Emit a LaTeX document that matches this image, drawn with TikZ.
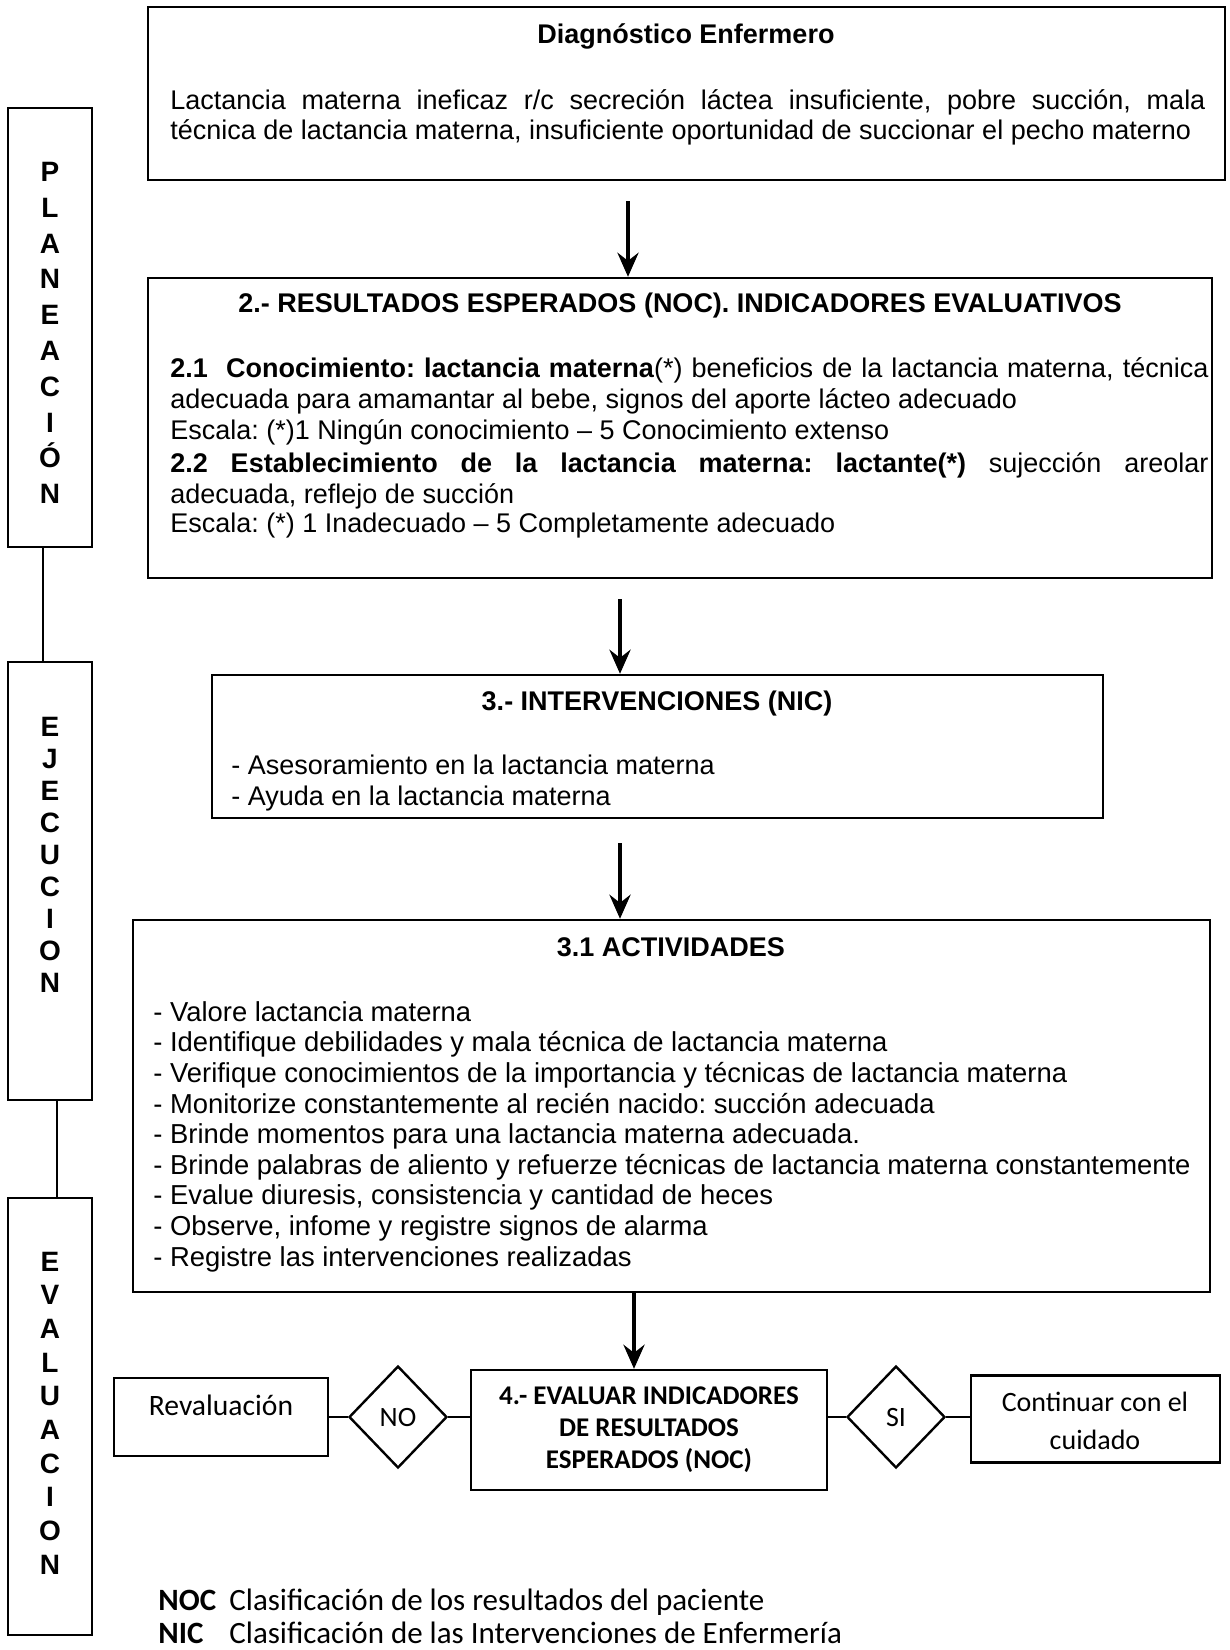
\documentclass[tikz,border=0pt]{standalone}
\usepackage{fontspec}
\setmainfont{Liberation Sans}
\newfontfamily\calib{Carlito}
\usetikzlibrary{shapes.geometric,arrows.meta}
\frenchspacing
\begin{document}
\begin{tikzpicture}[x=0.5pt,y=-0.5pt,
  box/.style={draw,line width=1.2pt,rectangle,inner sep=0pt},
  txt/.style={font=\fontsize{13.5}{15.5}\selectfont,inner sep=0pt,anchor=mid west},
  txtb/.style={font=\fontsize{13.7}{15.5}\selectfont,inner sep=0pt,anchor=mid west},
  ttl/.style={font=\bfseries\fontsize{13.5}{15.5}\selectfont,inner sep=0pt,anchor=mid},
  side/.style={font=\bfseries\fontsize{14}{#1}\selectfont,align=center,inner sep=0pt},
  arr/.style={line width=2pt,-{Stealth[length=12pt,width=10.5pt,inset=4pt]}},
  link/.style={line width=1.2pt},
  thin/.style={line width=0.9pt},
  cal/.style={font=\calib\fontsize{14}{16}\selectfont,inner sep=0pt},
  calbig/.style={font=\calib\fontsize{14.8}{16}\selectfont,inner sep=0pt},
  calb/.style={font=\calib\bfseries\fontsize{15.5}{17}\selectfont,inner sep=0pt,anchor=mid west},
  calr/.style={font=\calib\fontsize{15.5}{17}\selectfont,inner sep=0pt,anchor=mid west}]
\fill[white] (0,0) rectangle (1230,1650);
\useasboundingbox (0,0) rectangle (1230,1650);

% side boxes
\node[box,minimum width=42pt,minimum height=219.5pt] (plan) at (50,327.5) {};
\node[side=17.9pt] (plant) at (50,333) {P\\L\\A\\N\\E\\A\\C\\I\\Ó\\N};
\node[box,minimum width=42pt,minimum height=219pt] (ejec) at (50,881) {};
\node[side=16pt] (eject) at (50,855) {E\\J\\E\\C\\U\\C\\I\\O\\N};
\node[box,minimum width=42pt,minimum height=218.5pt] (evalu) at (50,1416.5) {};
\node[side=16.85pt] (evalut) at (50,1413) {E\\V\\A\\L\\U\\A\\C\\I\\O\\N};
\coordinate (sx1) at (43,0);
\coordinate (sx2) at (57,0);
\draw[thin] (plan.south -| sx1) -- (ejec.north -| sx1);
\draw[thin] (ejec.south -| sx2) -- (evalu.north -| sx2);

% box 1
\node[box,minimum width=538.5pt,minimum height=86.5pt] (b1) at (686.5,93.5) {};
\node[ttl] (d0) at (686,38) {Diagnóstico Enfermero};
\node[txt] (d1) at (170,104) {\makebox[517.5pt][s]{Lactancia materna ineficaz r/c secreción láctea insuficiente, pobre succión, mala}};
\node[txt] (d2) at (170,134) {técnica de lactancia materna, insuficiente oportunidad de succionar el pecho materno};

% box 2
\node[box,minimum width=532pt,minimum height=150pt] (b2) at (680,428) {};
\node[ttl] (r0) at (680,307) {2.- RESULTADOS ESPERADOS (NOC). INDICADORES EVALUATIVOS};
\node[txt] (r1) at (170,372) {\makebox[519pt][s]{\textbf{2.1\ \ Conocimiento: lactancia materna}(*) beneficios de la lactancia materna, técnica}};
\node[txt] (r2) at (170,403) {adecuada para amamantar al bebe, signos del aporte lácteo adecuado};
\node[txt] (r3) at (170,434) {Escala: (*)1 Ningún conocimiento – 5 Conocimiento extenso};
\node[txt] (r4) at (170,467) {\makebox[519pt][s]{\textbf{2.2 Establecimiento de la lactancia materna: lactante(*)} sujección areolar}};
\node[txt] (r5) at (170,498) {adecuada, reflejo de succión};
\node[txt] (r6) at (170,527) {Escala: (*) 1 Inadecuado – 5 Completamente adecuado};

% box 3
\node[box,minimum width=445.5pt,minimum height=71.5pt] (b3) at (657.5,746.5) {};
\node[ttl] (i0) at (657,705) {3.- INTERVENCIONES (NIC)};
\node[txt] (i1) at (231,769) {- Asesoramiento en la lactancia materna};
\node[txt] (i2) at (231,800) {- Ayuda en la lactancia materna};

% box 4
\node[box,minimum width=538.5pt,minimum height=186pt] (b4) at (671.5,1106) {};
\node[ttl] (a0) at (671,951) {3.1 ACTIVIDADES};
\node[txtb] (a1) at (153,1016) {- Valore lactancia materna};
\node[txtb] (a2) at (153,1046.6) {- Identifique debilidades y mala técnica de lactancia materna};
\node[txtb] (a3) at (153,1077.2) {- Verifique conocimientos de la importancia y técnicas de lactancia materna};
\node[txtb] (a4) at (153,1107.8) {- Monitorize constantemente al recién nacido: succión adecuada};
\node[txtb] (a5) at (153,1138.4) {- Brinde momentos para una lactancia materna adecuada.};
\node[txtb] (a6) at (153,1169) {- Brinde palabras de aliento y refuerze técnicas de lactancia materna constantemente};
\node[txtb] (a7) at (153,1199.6) {- Evalue diuresis, consistencia y cantidad de heces};
\node[txtb] (a8) at (153,1230.2) {- Observe, infome y registre signos de alarma};
\node[txtb] (a9) at (153,1260.8) {- Registre las intervenciones realizadas};

% evaluation row
\node[box,align=center,font=\calib\bfseries\fontsize{13.5}{16}\selectfont,minimum width=178pt,minimum height=60pt] (ev) at (649,1430) {4.- EVALUAR INDICADORES\\DE RESULTADOS\\ESPERADOS (NOC)};
\node[box,minimum width=107pt,minimum height=39pt] (rev) at (221,1417) {};
\node[calbig,anchor=mid] (revt) at (221,1410) {Revaluación};
\node[diamond,draw,line width=1.2pt,cal,minimum width=49pt,minimum height=51pt] (no) at (398,1417) {NO};
\node[diamond,draw,line width=1.2pt,cal,minimum width=49pt,minimum height=51pt] (si) at (896,1417) {SI};
\node[box,minimum width=124.5pt,minimum height=43.5pt] (cont) at (1095.5,1419) {};
\node[cal,anchor=mid] (cont1) at (1095,1406) {Continuar con el};
\node[cal,anchor=mid] (cont2) at (1095,1444) {cuidado};
\draw[link] (rev.east) -- (no.west);
\draw[link] (no.east) -- (no.east -| ev.west);
\draw[link] (si.west -| ev.east) -- (si.west);
\draw[link] (si.east) -- (si.east -| cont.west);

% arrows
\coordinate (ax1) at (628,0);
\coordinate (ax2) at (620,0);
\coordinate (ax4) at (634,0);
\draw[arr,shorten <=10pt] (b1.south -| ax1) -- (b2.north -| ax1);
\draw[arr,shorten <=10pt] (b2.south -| ax2) -- (b3.north -| ax2);
\draw[arr,shorten <=12pt] (b3.south -| ax2) -- (b4.north -| ax2);
\draw[arr] (b4.south -| ax4) -- (ev.north -| ax4);

% legend
\node[calb] (noc) at (158,1605) {NOC};
\node[calr] (nocd) at (229,1605) {Clasificación de los resultados del paciente};
\node[calb] (nic) at (158,1638) {NIC};
\node[calr] (nicd) at (229,1638) {Clasificación de las Intervenciones de Enfermería};
\end{tikzpicture}
\end{document}
